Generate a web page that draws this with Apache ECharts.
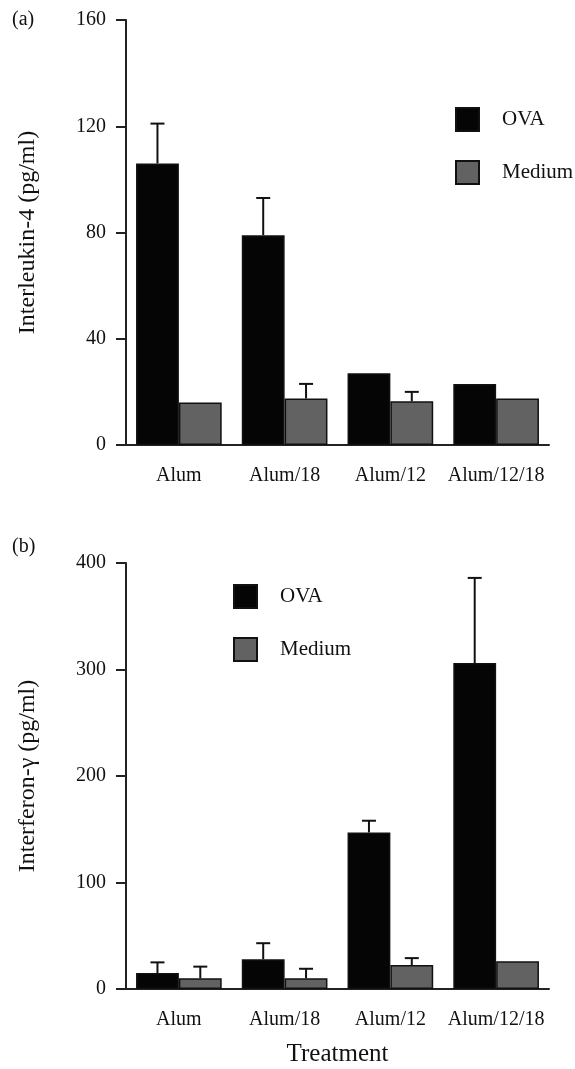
<!DOCTYPE html>
<html>
<head>
<meta charset="utf-8">
<script src="https://cdn.jsdelivr.net/npm/echarts@6/dist/echarts.min.js"></script>
<style>
html,body{margin:0;padding:0;background:#fff;}
#chart{width:575px;height:1069px;}
</style>
</head>
<body>
<div id="chart"></div>
<script>
const categories = ['Alum', 'Alum/18', 'Alum/12', 'Alum/12/18'];
const il4Ova = [106, 79, 27, 23];
const il4OvaErr = [15, 14, 0, 0];
const il4Medium = [16, 17.5, 16.5, 17.5];
const il4MediumErr = [0, 5.5, 3.5, 0];
const ifnOva = [15, 28, 147, 306];
const ifnOvaErr = [10, 15, 11, 80];
const ifnMedium = [10, 10, 22.5, 26];
const ifnMediumErr = [11, 9, 6.5, 0];
const il4Ticks = {min: 0, max: 160, interval: 40};
const ifnTicks = {min: 0, max: 400, interval: 100};

const FONT = "'Liberation Serif', 'DejaVu Serif', serif";
const INK = '#111';
const OVA_COLOR = '#050505';
const MED_COLOR = '#626262';

function errData(vals, errs) {
  return vals.map((v, i) => [i, v, errs[i]]);
}
function errSeries(name, xi, vals, errs, side) {
  return {
    type: 'custom', name: name, xAxisIndex: xi, yAxisIndex: xi, z: 5,
    encode: {x: 0, y: 1},
    data: errData(vals, errs),
    renderItem: function (params, api) {
      const idx = api.value(0), v = api.value(1), e = api.value(2);
      if (!e) return null;
      const band = api.size([1, 0])[0];
      const bw = band * 0.81 / 2;
      const base = api.coord([idx, v]);
      const top = api.coord([idx, v + e]);
      const x = base[0] + side * bw / 2;
      return {
        type: 'group',
        children: [
          {type: 'line', shape: {x1: x, y1: base[1], x2: x, y2: top[1]}, style: {stroke: INK, lineWidth: 2}},
          {type: 'line', shape: {x1: x - 7, y1: top[1], x2: x + 7, y2: top[1]}, style: {stroke: INK, lineWidth: 2}}
        ]
      };
    }
  };
}
function xAxisDef(gi, name) {
  return {
    type: 'category', gridIndex: gi, data: categories,
    axisLine: {lineStyle: {color: '#222', width: 2}},
    axisTick: {alignWithLabel: true, length: 10, lineStyle: {color: '#222', width: 2}},
    axisLabel: {interval: 0, fontFamily: FONT, fontSize: 20, color: INK, margin: 21},
    name: name, nameLocation: 'middle', nameGap: 53,
    nameTextStyle: {fontFamily: FONT, fontSize: 25, color: INK}
  };
}
function yAxisDef(gi, ticks, name) {
  return {
    type: 'value', gridIndex: gi, min: ticks.min, max: ticks.max, interval: ticks.interval,
    axisLine: {show: true, lineStyle: {color: '#222', width: 2}},
    axisTick: {show: true, length: 10, lineStyle: {color: '#222', width: 2}},
    splitLine: {show: false},
    axisLabel: {fontFamily: FONT, fontSize: 20, color: INK, margin: 20},
    name: name, nameLocation: 'middle', nameGap: 86,
    nameTextStyle: {fontFamily: FONT, fontSize: 24, color: INK}
  };
}
function barSeries(name, gi, vals, color) {
  return {
    type: 'bar', name: name, xAxisIndex: gi, yAxisIndex: gi, data: vals,
    barGap: '0%', barCategoryGap: '19%',
    itemStyle: {color: color, borderColor: INK, borderWidth: 1.5},
    emphasis: {disabled: true}
  };
}
function legendDef(left, top) {
  return {
    data: ['OVA', 'Medium'], orient: 'vertical', left: left, top: top, padding: 0,
    itemWidth: 23, itemHeight: 23, itemGap: 28, icon: 'rect',
    textStyle: {fontFamily: FONT, fontSize: 21, color: INK, padding: [0, 0, 0, 18]},
    selectedMode: false
  };
}

const chart = echarts.init(document.getElementById('chart'), null, {renderer: 'canvas'});
chart.setOption({
  animation: false,
  backgroundColor: '#fff',
  grid: [
    {left: 126, width: 423, top: 20, height: 425},
    {left: 126, width: 423, top: 563, height: 426}
  ],
  legend: [legendDef(455, 107), legendDef(233, 584)],
  xAxis: [xAxisDef(0, ''), xAxisDef(1, 'Treatment')],
  yAxis: [yAxisDef(0, il4Ticks, 'Interleukin-4 (pg/ml)'), yAxisDef(1, ifnTicks, 'Interferon-\u03B3 (pg/ml)')],
  graphic: [
    {type: 'text', left: 12, top: 10, style: {text: '(a)', font: '20px ' + FONT, fill: INK}},
    {type: 'text', left: 12, top: 537, style: {text: '(b)', font: '20px ' + FONT, fill: INK}}
  ],
  series: [
    barSeries('OVA', 0, il4Ova, OVA_COLOR),
    barSeries('Medium', 0, il4Medium, MED_COLOR),
    barSeries('OVA', 1, ifnOva, OVA_COLOR),
    barSeries('Medium', 1, ifnMedium, MED_COLOR),
    errSeries('errA1', 0, il4Ova, il4OvaErr, -1),
    errSeries('errA2', 0, il4Medium, il4MediumErr, 1),
    errSeries('errB1', 1, ifnOva, ifnOvaErr, -1),
    errSeries('errB2', 1, ifnMedium, ifnMediumErr, 1)
  ]
});
</script>
</body>
</html>
